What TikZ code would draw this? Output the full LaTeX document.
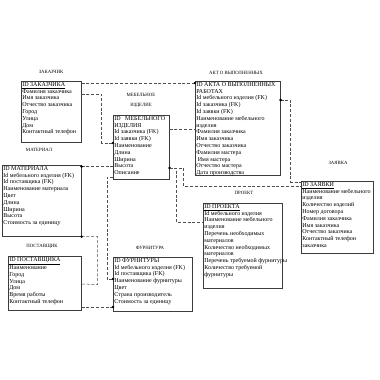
\documentclass[tikz,border=0pt]{standalone}
\usepackage{fontspec}
\setmainfont{Liberation Serif}
\usetikzlibrary{calc}
\definecolor{inkgray}{RGB}{60,60,60}
\definecolor{linkgray}{RGB}{80,80,80}
\tikzset{
  ent/.style={draw=inkgray,line width=0.6pt,fill=white,anchor=north west,inner sep=0pt},
  rows/.style={anchor=north west,align=left,inner xsep=1.2pt,inner ysep=1.2pt,font=\fontsize{6}{6.8}\selectfont},
  ttl/.style={align=center,font=\fontsize{4.8}{10}\selectfont},
  link/.style={draw=linkgray,line width=0.5pt,dash pattern=on 3pt off 1.8pt},
  dot/.style={circle,fill=black,inner sep=0pt,minimum size=2.8pt}
}
\begin{document}
\begin{tikzpicture}[x=1pt,y=-1pt]
  \useasboundingbox[fill=white] (0,0) rectangle (380,380);
  % entity boxes
  \node[ent,minimum width=60pt,minimum height=61pt] (zak) at (21,81) {};
  \node[ent,minimum width=56pt,minimum height=64pt] (meb) at (113,115) {};
  \node[ent,minimum width=85pt,minimum height=94pt] (akt) at (195,81) {};
  \node[ent,minimum width=79pt,minimum height=71pt] (mat) at (2,165) {};
  \node[ent,minimum width=72pt,minimum height=72pt] (zay) at (301,181) {};
  \node[ent,minimum width=79pt,minimum height=85pt] (pro) at (203,203) {};
  \node[ent,minimum width=73pt,minimum height=54pt] (pos) at (8,256) {};
  \node[ent,minimum width=79pt,minimum height=54pt] (fur) at (113,257) {};
  % titles
  \node[ttl] (zak-ttl) at (51,72) {ЗАКАЗЧИК};
  \node[ttl] (meb-ttl) at (141,100) {МЕБЕЛЬНОЕ\\ИЗДЕЛИЕ};
  \node[ttl] (akt-ttl) at (236,73) {АКТ О ВЫПОЛНЕННЫХ};
  \node[ttl] (mat-ttl) at (39,150) {МАТЕРИАЛ};
  \node[ttl] (zay-ttl) at (338,163) {ЗАЯВКА};
  \node[ttl] (pro-ttl) at (244,193) {ПРОЕКТ};
  \node[ttl] (pos-ttl) at (42,246) {ПОСТАВЩИК};
  \node[ttl] (fur-ttl) at (150,248) {ФУРНИТУРА};
  % attributes
  \node[rows] (zak-rows) at (zak.north west) {\underline{ID ЗАКАЗЧИКА}\\Фамилия заказчика\\Имя заказчика\\Отчество заказчика\\Город\\Улица\\Дом\\Контактный телефон};
  \node[rows] (meb-rows) at (meb.north west) {ID~~~МЕБЕЛЬНОГО\\ИЗДЕЛИЯ\\Id заказчика (FK)\\Id заявки (FK)\\Наименование\\Длина\\Ширина\\Высота\\Описание};
  \node[rows] (akt-rows) at (akt.north west) {ID АКТА О ВЫПОЛНЕННЫХ\\РАБОТАХ\\Id мебельного изделия (FK)\\Id заказчика (FK)\\Id заявки (FK)\\Наименование мебельного\\изделия\\Фамилия заказчика\\Имя заказчика\\Отчество заказчика\\Фамилия мастера\\\ Имя мастера\\Отчество мастера\\Дата производства};
  \node[rows] (mat-rows) at (mat.north west) {ID МАТЕРИАЛА\\Id мебельного изделия (FK)\\Id поставщика (FK)\\Наименование материала\\Цвет\\Длина\\Ширина\\Высота\\Стоимость за единицу};
  \node[rows] (zay-rows) at (zay.north west) {\underline{ID ЗАЯВКИ}\\Наименование мебельного\\изделия\\Количество изделий\\Номер договора\\Фамилия заказчика\\Имя заказчика\\Отчество заказчика\\Контактный телефон\\заказчика};
  \node[rows] (pro-rows) at (pro.north west) {\underline{ID ПРОЕКТА}\\Id мебельного изделия\\Наименование мебельного\\изделия\\Перечень необходимых\\материалов\\Количество необходимых\\материалов\\Перечень требуемой фурнитуры\\Количество требуемой\\фурнитуры};
  \node[rows] (pos-rows) at (pos.north west) {\underline{ID ПОСТАВЩИКА}\\Наименование\\Город\\Улица\\Дом\\Время работы\\Контактный телефон};
  \node[rows] (fur-rows) at (fur.north west) {ID ФУРНИТУРЫ\\Id мебельного изделия (FK)\\Id поставщика (FK)\\Наименование фурнитуры\\Цвет\\Страна производитель\\Стоимость за единицу};
  % relations
  \draw[link] ($(zak.north east)+(0,2)$) -- ($(akt.north west)+(0,2)$) node[dot] {};
  \draw[link] ($(zak.north east)+(0,13)$) -| ++(20,49) -- ($(meb.north west)+(0,28)$) node[dot] {};
  \draw[link] ($(meb.north east)+(0,14)$) -- ($(akt.north west)+(0,48)$);
  \draw[link] ($(mat.north east)+(0,1.5)$) node[dot] {} -- ($(meb.north west)+(0,51.5)$);
  \draw[link] ($(meb.north east)+(0,53)$) node[dot] {} -| ++(14,18) -- ($(zay.north west)+(0,5)$);
  \draw[link] ($(meb.north east)+(0,53)$) -| ++(7,54) -- ($(pro.north west)+(0,19)$);
  \draw[link] ($(akt.north east)+(0,19)$) node[dot] {} -| ++(10,82) -- ($(zay.north west)+(0,1)$);
  \draw[link] (mat.south east) node[dot] {} -| ++(16,48) -- ($(pos.north east)+(0,28)$);
  \draw[link] ($(pos.north east)+(0,51)$) -- ($(fur.north west)+(0,50)$) node[dot] {};
  \draw[link] ($(meb.north west)+(0,62)$) -| ++(-6,102) -- ($(fur.north west)+(0,22)$) node[dot] {};
\end{tikzpicture}
\end{document}
